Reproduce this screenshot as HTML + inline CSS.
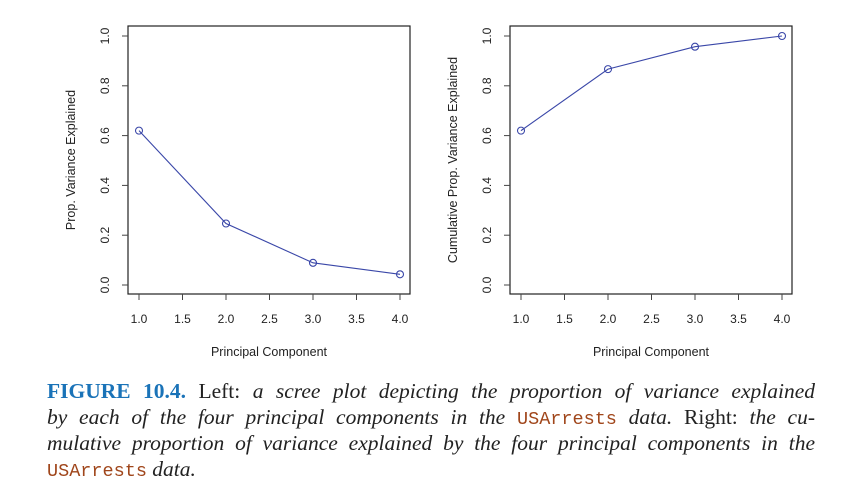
<!DOCTYPE html>
<html><head><meta charset="utf-8"><style>
body{margin:0;width:850px;height:478px;background:#fff;overflow:hidden;position:relative}
svg text{font-family:"Liberation Sans",sans-serif;fill:#222}
.cap{position:absolute;left:47px;top:378px;width:768px;font-family:"Liberation Serif",serif;font-size:21.5px;line-height:26px;color:#222}
.ln{display:block;width:768px;text-align:justify;text-align-last:justify;white-space:nowrap;height:26px}
.ln.last{text-align-last:left}
.cap i{font-style:italic}
.fig{color:#1a73b8;font-weight:bold}
.code{font-family:"Liberation Mono",monospace;color:#a0461b;font-size:18.5px}
</style></head><body>
<svg id="chart" width="850" height="378" style="position:absolute;left:0;top:0"></svg>
<div class="cap">
<span class="ln"><span class="fig">FIGURE 10.4.</span> Left: <i>a scree plot depicting the proportion of variance explained</i></span>
<span class="ln"><i>by each of the four principal components in the</i> <span class="code">USArrests</span> <i>data.</i> Right: <i>the cu-</i></span>
<span class="ln"><i>mulative proportion of variance explained by the four principal components in the</i></span>
<span class="ln last"><span class="code">USArrests</span> <i>data.</i></span>
</div>
<script>
const components=[1,2,3,4];
const propVar=[0.62,0.247,0.089,0.043];
const cumVar=[0.62,0.867,0.957,1.0];
const xTicks=[1.0,1.5,2.0,2.5,3.0,3.5,4.0];
const yTicks=[0.0,0.2,0.4,0.6,0.8,1.0];
const svg=document.getElementById('chart');
const NS='http://www.w3.org/2000/svg';
function mk(t,a,p){const e=document.createElementNS(NS,t);for(const k in a)e.setAttribute(k,a[k]);p.appendChild(e);return e;}
function panel(off,vals,ytitle,name){
  const g=mk('g',{},svg);
  
  
  const sx=v=>139+off+(v-1)*(261/3), sy=v=>285-v*249;
  const box=mk('rect',{x:128+off,y:26,width:282,height:268,fill:'none',stroke:'#222','stroke-width':1.2},g);
  
  
  xTicks.forEach(t=>{const x=sx(t);
    const l=mk('line',{x1:x,x2:x,y1:294,y2:300,stroke:'#444'},g);
    
    
    const tx=mk('text',{x:x,y:323,'text-anchor':'middle','font-size':12},g);tx.textContent=t.toFixed(1);
    
    });
  yTicks.forEach(t=>{const y=sy(t);
    const l=mk('line',{x1:122+off,x2:128+off,y1:y,y2:y,stroke:'#444'},g);
    
    
    const tx=mk('text',{x:0,y:0,'text-anchor':'middle','font-size':12,transform:`translate(${109+off},${y}) rotate(-90)`},g);tx.textContent=t.toFixed(1);
    
    });
  const xt=mk('text',{x:269+off,y:356,'text-anchor':'middle','font-size':12.5},g);xt.textContent='Principal Component';
  
  
  const yt=mk('text',{x:0,y:0,'text-anchor':'middle','font-size':12.5,transform:`translate(${75+off},160) rotate(-90)`},g);yt.textContent=ytitle;
  
  
  const pl=mk('polyline',{points:components.map((c,i)=>sx(c)+','+sy(vals[i])).join(' '),fill:'none',stroke:'#3a47a8','stroke-width':1.1},g);
  
  
  components.forEach((c,i)=>{const p=mk('circle',{cx:sx(c),cy:sy(vals[i]),r:3.5,fill:'none',stroke:'#3a47a8','stroke-width':1.1},g);
    
    });
}
panel(0,propVar,'Prop. Variance Explained','left-scree-plot');
panel(382,cumVar,'Cumulative Prop. Variance Explained','right-cumulative-plot');
</script>
</body></html>
